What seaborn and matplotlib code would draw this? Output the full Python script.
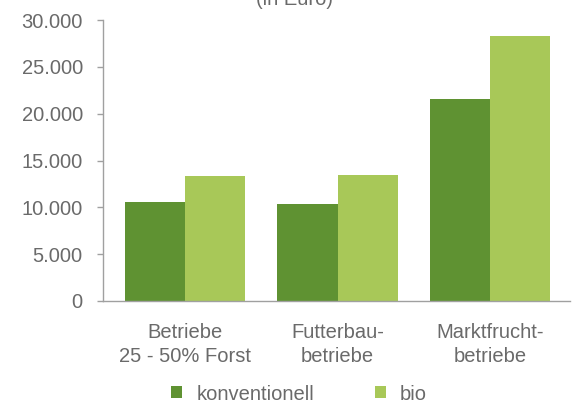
import matplotlib
matplotlib.use("Agg")
import matplotlib.pyplot as plt
import seaborn as sns
import pandas as pd
from matplotlib.ticker import FuncFormatter
from matplotlib.patches import Patch

categories = ["Betriebe\n25 - 50% Forst", "Futterbau-\nbetriebe", "Marktfrucht-\nbetriebe"]
series_names = ["konventionell", "bio"]
konventionell = [10600, 10350, 21600]
bio = [13300, 13500, 28300]
yticks = [0, 5000, 10000, 15000, 20000, 25000, 30000]
title = "(in Euro)"

colors = ["#5f9232", "#a8c858"]
text_color = "#6a6a6a"
axis_color = "#a0a0a0"

rows = []
for c, k, b in zip(categories, konventionell, bio):
    rows.append({"cat": c, "serie": series_names[0], "val": k})
    rows.append({"cat": c, "serie": series_names[1], "val": b})
df = pd.DataFrame(rows)

sns.set_style("white")
plt.rcParams["font.family"] = ["Liberation Sans", "DejaVu Sans"]

fig = plt.figure(figsize=(5.78, 4.04), dpi=100)
ax = fig.add_axes([103/578, 1-301/404, (570-103)/578, (301-20)/404])

sns.barplot(data=df, x="cat", y="val", hue="serie", palette=colors,
            width=0.79, gap=0, saturation=1, ax=ax, legend=False,
            errorbar=None, edgecolor="none", linewidth=0)

ax.set_ylim(0, 30000)
ax.set_xlim(-0.54, 2.525)
ax.set_yticks(yticks)
ax.yaxis.set_major_formatter(FuncFormatter(lambda v, p: f"{int(v):,}".replace(",", ".")))
ax.set_xlabel("")
ax.set_ylabel("")

for s in ["top", "right"]:
    ax.spines[s].set_visible(False)
for s in ["left", "bottom"]:
    ax.spines[s].set_color(axis_color)
    ax.spines[s].set_linewidth(1.0)

ax.tick_params(axis="y", which="major", left=True, length=4.5, width=1.0, color=axis_color,
               labelsize=14.5, labelcolor=text_color, pad=10)
ax.tick_params(axis="x", which="major", bottom=False, labelsize=14.5, labelcolor=text_color, pad=12)
for lbl in ax.get_xticklabels():
    lbl.set_linespacing(1.35)

fig.text(294/578, 1-9/404, title, ha="center", va="bottom", fontsize=14.5, color=text_color)

handles = [Patch(facecolor=colors[0], edgecolor="none"), Patch(facecolor=colors[1], edgecolor="none")]
fig.legend(handles, series_names, loc="center", bbox_to_anchor=(299/578, 1-394/404),
           ncol=2, frameon=False, fontsize=14.5, labelcolor=text_color,
           handlelength=0.55, handleheight=0.55, handletextpad=0.7, columnspacing=3.0)

fig.savefig("out.png", dpi=100)
